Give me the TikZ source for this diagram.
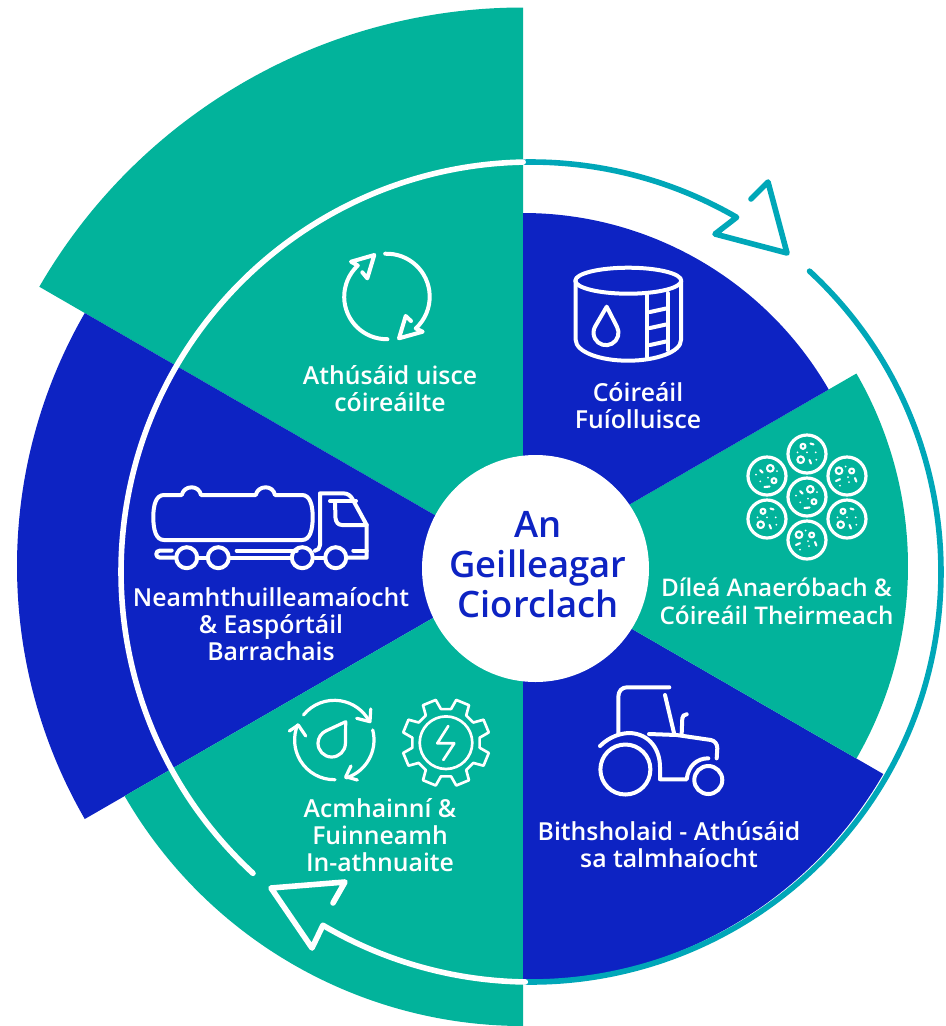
\documentclass[tikz,border=0pt]{standalone}
\usepackage{fontspec}
\setmainfont{Open Sans}
\newfontfamily\lblfont{Open Sans Semibold}
\newfontfamily\hubfont{Open Sans Semibold}

\definecolor{wheelblue}{HTML}{0D23C3}
\definecolor{wheelgreen}{HTML}{02B39B}
\definecolor{loopteal}{HTML}{00A7B8}

\tikzset{
    iconline/.style={draw=white,line width=3pt,line cap=round,line join=round},
    iconthin/.style={draw=white,line width=2.4pt,line cap=round,line join=round},
    loopline/.style={line width=4.2pt,line cap=round,line join=round},
    sector/.style={text=white,align=center,font=\lblfont\fontsize{18.6}{20.3}\selectfont}
}

% a sector of the wheel: colour, start angle, end angle, radius
\newcommand{\wheelsector}[4]{\fill[#1] (523,566) -- ++(#2:#4) arc (#2:#3:#4) -- cycle;}

\begin{document}
\begin{tikzpicture}[x=0.75pt,y=-0.75pt]
    \useasboundingbox (0,0) rectangle (946,1026);

    % The wedges
    \wheelsector{wheelgreen}{210}{270}{558.5}
    \wheelsector{wheelblue}{150}{210}{506}
    \wheelsector{wheelgreen}{90}{150}{460}
    \wheelsector{wheelblue}{30}{90}{416}
    \wheelsector{wheelgreen}{-30}{30}{385}
    \wheelsector{wheelblue}{-90}{-30}{353}

    % The loop around the wheel
    \coordinate (loopc) at (531,572);
    \draw[loopline,loopteal] (loopc) ++(-91.1:410) arc (-91.1:-59.9:410) -- (715,234) -- (787,253) -- (768,182) -- (751,199);
    \draw[loopline,loopteal] (loopc) ++(-47.2:410) arc (-47.2:90.8:410);
    \draw[loopline,white] (loopc) ++(90.8:410) arc (90.8:120.5:410) -- (312,948) -- (271,888) -- (345,882) -- (333,903);
    \draw[loopline,white] (loopc) ++(132.7:410) arc (132.7:268.9:410);

    % The hub
    \fill[white] (535.5,568.5) circle (113.5);
    \node[text=wheelblue,align=center,font=\hubfont\fontsize{27.3}{30}\selectfont] (hub) at (538,565) {An\\Geilleagar\\Ciorclach};

    % The tank
    \draw[iconline] (628.3,280.7) ellipse (53 and 13);
    \draw[iconline] (575.7,281) -- (575.7,340) .. controls (576,352) and (600,360.7) .. (628,360.7) .. controls (656,360.7) and (681,352) .. (681,340) -- (681,281);
    \draw[iconline] (647.3,295) -- (647.3,357);
    \draw[iconline] (667.7,293) -- (667.7,350);
    \foreach \rungy in {312,328,345} {
        \draw[iconline] (650,\rungy) -- (666,\rungy-3.5);
    }
    \draw[iconline] (606,332.7) ++(-28.7:12.5) arc (-28.7:208.7:12.5) -- (606.7,306.7) -- cycle;
    \node[sector] (tanklabel) at (638,405.7) {Cóireáil\\Fuíolluisce};

    % The dishes
    \foreach \dishx/\dishy in {807/497,767/476} {
        \begin{scope}[shift={(\dishx,\dishy)}]
            \draw[iconthin] (0,0) circle (19);
            \draw[iconthin,line width=1.6pt] (3.3,-7.7) circle (3.3) (7,4.7) circle (2.5) (-7,-6) -- (-4.5,-3.5) (-2.5,11) -- (2.5,10.5);
            \fill[white] (-11,-1.3) circle (1) (-6.7,5.3) circle (1) (1,1.7) circle (1) (10,-5) circle (1);
        \end{scope}
    }
    \foreach \dishx/\dishy in {807/454,767/519,847/519} {
        \begin{scope}[shift={(\dishx,\dishy)}]
            \draw[iconthin] (0,0) circle (19);
            \draw[iconthin,line width=1.6pt] (-4,-7.7) circle (2.5) (-6.3,5.7) circle (3.3) (3.5,-10.5) -- (6.5,-9.5) (2.5,6) -- (4,9.5);
            \fill[white] (-9.5,-1.7) circle (1) (0,-1.7) circle (1) (8.7,-1.7) circle (1) (9.3,5.7) circle (1);
        \end{scope}
    }
    \foreach \dishx/\dishy in {847/476,807/540} {
        \begin{scope}[shift={(\dishx,\dishy)}]
            \draw[iconthin] (0,0) circle (19);
            \draw[iconthin,line width=1.6pt] (-8,-5.3) circle (3.3) (4.7,-5) circle (2.5) (-11,5) -- (-7,3.2) (8,2) -- (9.3,5.5);
            \fill[white] (-1.3,-9.5) circle (1) (1,1) circle (1) (-7,9.5) circle (1) (2,6) circle (1);
        \end{scope}
    }
    \node[sector,font=\lblfont\fontsize{18.2}{20.3}\selectfont] (dishlabel) at (776.5,601.3) {Díleá Anaeróbach \&\\Cóireáil Theirmeach};

    % The tractor
    \draw[iconline] (625.4,769.5) circle (25);
    \draw[iconline] (708.3,780) circle (14);
    \draw[iconline] (600,746) .. controls (610,736) and (622,733) .. (630,733) .. controls (650,734) and (660,750) .. (660,767) -- (660,779.3) -- (686.7,779.3) .. controls (688,766) and (697,758.3) .. (708.3,758.3);
    \draw[iconline] (618.3,733.3) -- (618.3,697) .. controls (618.3,691) and (622,687.3) .. (627,687.3) -- (669.3,687.3);
    \draw[iconline] (665,695) -- (674,733);
    \draw[iconline] (649,734) -- (676.7,735) -- (711,740) .. controls (715,741) and (717.3,744) .. (717.3,748.3) -- (716.7,758.3);
    \draw[iconline] (681.7,733.3) -- (682.3,718.3) .. controls (682.5,716) and (684,714.5) .. (686.7,714.3);
    \node[sector] (tractorlabel) at (669,844.5) {Bithsholaid - Athúsáid\\sa talmhaíocht};

    % The water loop and the gear
    \coordinate (dropc) at (334.3,740);
    \draw[iconthin] (dropc) ++(219:39.7) arc (219:332:39.7);
    \draw[iconthin] (dropc) ++(-14.7:39.7) arc (-14.7:72.7:39.7);
    \draw[iconthin] (dropc) ++(89:39.7) arc (89:202.6:39.7);
    \draw[iconthin] (356.7,718.3) -- (370,721.7) -- (370.7,709);
    \draw[iconthin] (351,766) -- (345.7,776.7) -- (357.3,780);
    \draw[iconthin] (289.3,731) -- (298.3,725) -- (305.7,736);
    \draw[iconthin] (331.7,743.3) ++(0.8:13.7) arc (0.8:245.2:13.7) -- (345.7,721.7) -- cycle;
    \begin{scope}[shift={(446,742.7)}]
        \foreach \toothang in {22.5,67.5,...,337.5} {
            \draw[iconthin,line width=2pt] (\toothang-14:34) -- (\toothang-9:44) -- (\toothang+9:44) -- (\toothang+14:34) -- (\toothang+31:34);
        }
        \draw[iconthin,line width=2pt] (0,0) circle (26.3);
        \draw[iconthin,line width=2pt] (2.3,-16.7) -- (-8.7,0.6) -- (8.3,0.6) -- (-2.7,17.3);
    \end{scope}
    \node[sector] (gearlabel) at (380,835) {Acmhainní \&\\Fuinneamh\\In-athnuaite};

    % The truck
    \draw[iconline] (164,495) -- (181.7,495) .. controls (183,490) and (187,487.3) .. (191.7,487.3) .. controls (196,487.3) and (200,490) .. (201,495) -- (255.7,495) .. controls (257,490) and (261,487.3) .. (265.7,487.3) .. controls (270,487.3) and (274,490) .. (275,495) -- (302,495) .. controls (310,495) and (312.7,505) .. (312.7,517) .. controls (312.7,530) and (310,540) .. (302,540) -- (164,540) .. controls (156,540) and (153.3,530) .. (153.3,517) .. controls (153.3,505) and (156,495) .. (164,495) -- cycle;
    \draw[iconline] (315,550.7) .. controls (318,550.7) and (320,548) .. (320,545) -- (320,493.3) -- (343.3,493.3) .. controls (348,493.3) and (351,496) .. (353,500) -- (366.7,525) -- (366.7,557.7) -- (346.7,557.7);
    \draw[iconline] (353.3,550.5) -- (366.7,550.5);
    \draw[iconline] (330,501) -- (356,501);
    \draw[iconline] (335,501.7) -- (335.5,518) .. controls (336,522) and (338,525) .. (342,525) -- (366.7,525);
    \draw[iconline] (171.7,550.5) -- (160,550.5) .. controls (155,550.5) and (155,557.7) .. (160,557.7) -- (175,557.7);
    \draw[iconline] (196.7,557.7) -- (207,557.7);
    \draw[iconline] (230,557.7) -- (290,557.7);
    \draw[iconline] (236.7,550.7) -- (296.7,550.7);
    \draw[iconline] (315,557.7) -- (325,557.7);
    \foreach \wheelx in {186.7,218.3,302.3,335.7} {
        \draw[iconline] (\wheelx,557.7) circle (10.5);
    }
    \node[sector] (trucklabel) at (271,624) {Neamhthuilleamaíocht\\\& Easpórtáil\\Barrachais};

    % The reuse arrows
    \coordinate (reusec) at (386.7,296.7);
    \draw[iconline] (reusec) ++(-92:43) arc (-92:47.5:43) -- (422.7,331.7) -- (399,338.3) -- (405.7,316) -- (411,321);
    \draw[iconline] (reusec) ++(89:42.5) arc (89:227.2:42.5) -- (351,261.7) -- (374.3,255) -- (367.3,278.3) -- (362.3,272.3);
    \node[sector] (reuselabel) at (390,388.5) {Athúsáid uisce\\cóireáilte};
\end{tikzpicture}
\end{document}
